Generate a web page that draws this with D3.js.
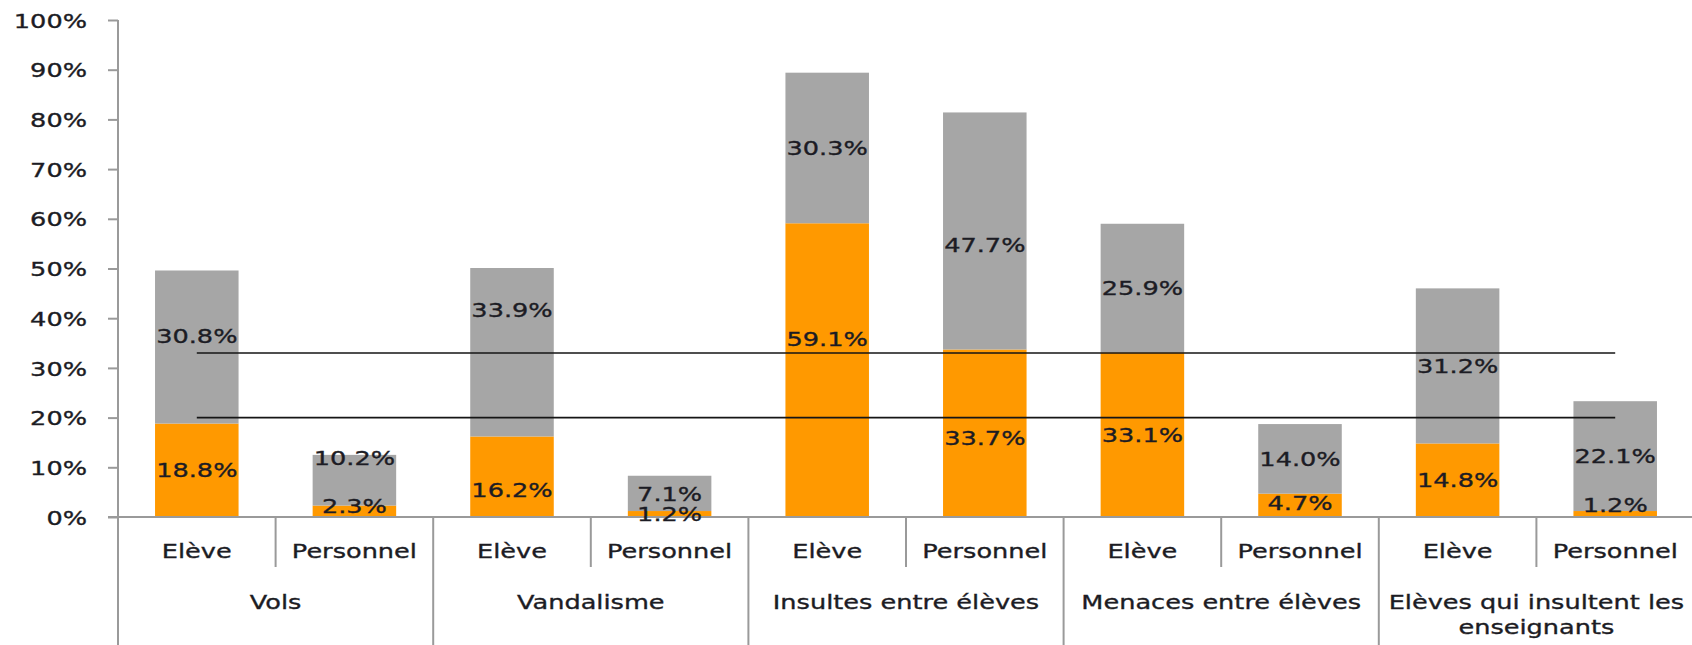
<!DOCTYPE html>
<html>
<head>
<meta charset="utf-8">
<script src="https://cdn.jsdelivr.net/npm/d3@7"></script>
<style>
  html, body { margin: 0; padding: 0; background: #fff; }
  svg { display: block; }
  text { font-family: "DejaVu Sans", Verdana, sans-serif; font-size: 20px; fill: #1c1c24; stroke: #1c1c24; stroke-width: 0.35px; }
</style>
</head>
<body>
<svg id="chart" width="1692" height="645"></svg>
<script>
// ---- data ----
const groups = ["Vols", "Vandalisme", "Insultes entre élèves", "Menaces entre élèves", "Elèves qui insultent les enseignants"];
const subs = ["Elève", "Personnel"];
const orangeVals = [18.8, 2.3, 16.2, 1.2, 59.1, 33.7, 33.1, 4.7, 14.8, 1.2];
const grayVals   = [30.8, 10.2, 33.9, 7.1, 30.3, 47.7, 25.9, 14.0, 31.2, 22.1];
const refLines = [33, 20];
const yTicks = [0, 10, 20, 30, 40, 50, 60, 70, 80, 90, 100];

// ---- layout / style ----
const W = 1692, H = 645;
const x0 = 118, x1 = 1694;
const yBottom = 517, yTop = 20;
const sx = 1.28;               // horizontal stretch of the text
const orange = "#FF9900", gray = "#A6A6A6", axisCol = "#9a9a9a";
// label nudges (px) relative to segment centres
const nudgeOrange = [0, -5, 13, 0, -31, 5, 0, -3, 0, -9];
const nudgeGray   = [-11, -22, -42, 0, 0, 14, 0, 0, 0, 0];

const rows = [];
groups.forEach((g, gi) => subs.forEach((s, si) => {
  const i = gi * subs.length + si;
  rows.push({ key: g + "|" + s, group: g, sub: s, o: orangeVals[i], g: grayVals[i], i });
}));

const svg = d3.select("#chart");
const x = d3.scaleBand().domain(rows.map(d => d.key)).range([x0, x1]).paddingInner(0.47).paddingOuter(0.235);
const y = d3.scaleLinear().domain([0, 100]).range([yBottom, yTop]);
const step = x.step();

function stext(sel, tx, ty) {
  return sel.attr("transform", `translate(${tx},${ty}) scale(${sx},1)`);
}

// bars
const bars = svg.append("g");
bars.selectAll("rect.o").data(rows).join("rect")
  .attr("x", d => x(d.key)).attr("width", x.bandwidth())
  .attr("y", d => y(d.o)).attr("height", d => y(0) - y(d.o))
  .attr("fill", orange);
bars.selectAll("rect.g").data(rows).join("rect")
  .attr("x", d => x(d.key)).attr("width", x.bandwidth())
  .attr("y", d => y(d.o + d.g)).attr("height", d => y(d.o) - y(d.o + d.g))
  .attr("fill", gray);

// y axis
const yAxis = d3.axisLeft(y).tickValues(yTicks).tickSize(10).tickFormat("");
const ya = svg.append("g").attr("transform", `translate(${x0},0)`).call(yAxis);
ya.select(".domain").remove();
ya.selectAll(".tick line").attr("stroke", axisCol).attr("stroke-width", 2);
svg.append("line").attr("x1", x0).attr("x2", x0).attr("y1", y(100)).attr("y2", H)
  .attr("stroke", axisCol).attr("stroke-width", 2);
svg.append("g").selectAll("text").data(yTicks).join("text")
  .attr("text-anchor", "end").attr("dy", "0.38em")
  .text(d => d + "%")
  .each(function (d) { stext(d3.select(this), 87, y(d)); });

// x axis line
svg.append("line").attr("x1", x0 - 10).attr("x2", x1).attr("y1", yBottom).attr("y2", yBottom)
  .attr("stroke", axisCol).attr("stroke-width", 2);

// dividers
const dividers = svg.append("g").attr("stroke", axisCol).attr("stroke-width", 2);
rows.forEach((d, i) => {
  if (i === 0) return;
  const xx = x0 + step * i;
  const isGroup = (i % subs.length) === 0;
  dividers.append("line").attr("x1", xx).attr("x2", xx)
    .attr("y1", yBottom).attr("y2", isGroup ? H : 567);
});

// sub-category labels
svg.append("g").selectAll("text").data(rows).join("text")
  .attr("text-anchor", "middle").text(d => d.sub)
  .each(function (d) { stext(d3.select(this), x(d.key) + x.bandwidth() / 2, 558); });

// group labels (wrapped)
const groupG = svg.append("g");
groups.forEach((g, gi) => {
  const cx = x0 + step * subs.length * (gi + 0.5);
  const maxW = step * subs.length - 6;
  const words = g.split(" ");
  const lines = [];
  let cur = "";
  const probe = groupG.append("text").attr("visibility", "hidden");
  words.forEach(w => {
    const t = cur ? cur + " " + w : w;
    probe.text(t);
    if (probe.node().getComputedTextLength() * sx > maxW && cur) { lines.push(cur); cur = w; }
    else cur = t;
  });
  lines.push(cur);
  probe.remove();
  lines.forEach((ln, li) => {
    stext(groupG.append("text").attr("text-anchor", "middle").text(ln), cx, 609 + li * 25);
  });
});

// reference lines
const xFirst = x(rows[0].key) + x.bandwidth() / 2;
const xLast = x(rows[rows.length - 1].key) + x.bandwidth() / 2;
svg.append("g").selectAll("line").data(refLines).join("line")
  .attr("x1", xFirst).attr("x2", xLast)
  .attr("y1", d => y(d)).attr("y2", d => y(d))
  .attr("stroke", "#151515").attr("stroke-width", 1.6);

// data labels
const fmt = v => v.toFixed(1) + "%";
const lab = svg.append("g");
rows.forEach((d, i) => {
  const cx = x(d.key) + x.bandwidth() / 2;
  stext(lab.append("text").attr("text-anchor", "middle").attr("dy", "0.36em").text(fmt(d.o)),
    cx, (y(0) + y(d.o)) / 2 + nudgeOrange[i]);
  stext(lab.append("text").attr("text-anchor", "middle").attr("dy", "0.36em").text(fmt(d.g)),
    cx, (y(d.o) + y(d.o + d.g)) / 2 + nudgeGray[i]);
});
</script>
</body>
</html>
